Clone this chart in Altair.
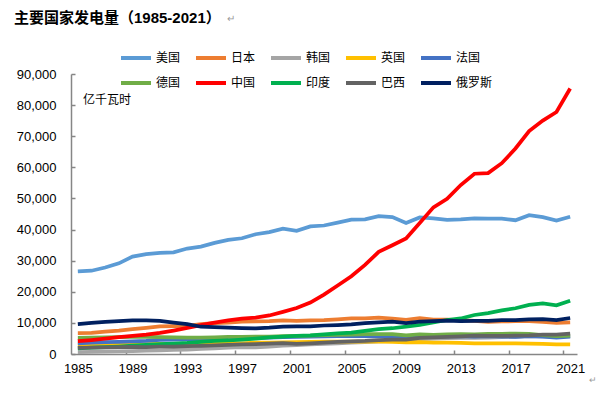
import altair as alt
import pandas as pd

years = list(range(1985, 2022))
countries = ["美国", "日本", "韩国", "英国", "法国", "德国", "中国", "印度", "巴西", "俄罗斯"]
colors = ["#5B9BD5", "#ED7D31", "#A5A5A5", "#FFC000", "#4472C4",
          "#70AD47", "#FF0000", "#00B050", "#636363", "#002060"]

us = [26570, 26760, 27800, 29150, 31300, 32100, 32500, 32700, 33900, 34500, 35700, 36700, 37200,
      38500, 39200, 40300, 39600, 41000, 41300, 42200, 43200, 43300, 44300, 44000, 42100, 43900,
      43600, 43100, 43300, 43600, 43500, 43500, 43000, 44600, 44000, 42900, 44100]
japan = [6720, 6760, 7190, 7540, 7990, 8420, 8880, 8950, 9060, 9640, 9900, 10100, 10370, 10460,
         10570, 10810, 10620, 10810, 10860, 11160, 11440, 11470, 11700, 11390, 11000, 11500, 11040,
         11070, 10870, 10620, 10350, 10510, 10530, 10570, 10310, 10040, 10200]
korea = [580, 646, 739, 855, 945, 1077, 1186, 1310, 1444, 1650, 1847, 2055, 2244, 2153, 2393, 2664,
         2852, 3065, 3225, 3421, 3646, 3812, 4031, 4224, 4336, 4747, 4969, 5096, 5171, 5220, 5281,
         5404, 5535, 5706, 5630, 5522, 5774]
uk = [2980, 3010, 3010, 3070, 3130, 3200, 3230, 3210, 3230, 3260, 3340, 3480, 3450, 3630, 3680,
      3770, 3850, 3870, 3980, 3940, 3980, 3970, 3970, 3890, 3760, 3820, 3670, 3640, 3580, 3380,
      3390, 3390, 3380, 3330, 3250, 3130, 3070]
france = [3440, 3620, 3810, 3920, 4070, 4200, 4550, 4630, 4720, 4770, 4940, 5130, 5050, 5110, 5240,
          5400, 5490, 5590, 5670, 5740, 5760, 5740, 5700, 5740, 5360, 5690, 5620, 5640, 5740, 5620,
          5710, 5560, 5540, 5740, 5620, 5260, 5550]
germany = [5220, 5230, 5310, 5410, 5500, 5500, 5400, 5380, 5270, 5290, 5370, 5530, 5520, 5570, 5560,
           5770, 5860, 5870, 6090, 6170, 6230, 6400, 6410, 6400, 5960, 6330, 6130, 6300, 6380, 6270,
           6470, 6490, 6540, 6430, 6090, 5740, 5880]
china = [4107, 4495, 4973, 5452, 5847, 6212, 6776, 7542, 8395, 9281, 10070, 10813, 11348, 11670,
         12393, 13556, 14808, 16540, 19106, 22033, 25003, 28657, 32816, 34958, 37147, 42072, 47130,
         49876, 54316, 57945, 58146, 61332, 66044, 71661, 75034, 77791, 85343]
india = [1840, 2010, 2180, 2400, 2670, 2930, 3170, 3360, 3560, 3860, 4180, 4340, 4630, 4960, 5370,
         5610, 5790, 5970, 6330, 6650, 6890, 7440, 7970, 8280, 8800, 9340, 10140, 10920, 11420,
         12530, 13170, 14010, 14710, 15800, 16230, 15630, 17140]
brazil = [1930, 2030, 2090, 2220, 2290, 2230, 2340, 2410, 2520, 2600, 2750, 2910, 3080, 3210, 3320,
          3490, 3280, 3450, 3650, 3870, 4030, 4190, 4450, 4630, 4660, 5160, 5320, 5520, 5700, 5900,
          5810, 5790, 5890, 6010, 6260, 6210, 6560]
russia = [9620, 10000, 10300, 10600, 10770, 10820, 10680, 10080, 9570, 8760, 8600, 8470, 8340, 8270,
          8460, 8780, 8910, 8910, 9160, 9320, 9530, 9960, 10150, 10400, 9920, 10380, 10550, 10710,
          10590, 10640, 10680, 10910, 10910, 11100, 11210, 10900, 11570]

series = [us, japan, korea, uk, france, germany, china, india, brazil, russia]
x_label_years = list(range(1985, 2022, 4))
x_tick_bounds = [y - 0.5 for y in range(1989, 2022, 4)]
y_ticks = list(range(0, 90001, 10000))
title_text = "主要国家发电量（1985-2021）"
unit_text = "亿千瓦时"
para_mark = "↵"

rows = []
for ci, (name, vals) in enumerate(zip(countries, series)):
    for yr, v in zip(years, vals):
        rows.append({"country": name, "year": yr, "value": v, "ord": ci})
df = pd.DataFrame(rows)

W, H = 506, 280
NUM_FONT = "Liberation Sans"
CJK_FONT = "Noto Sans CJK SC"
MIX_FONT = "Liberation Sans, Noto Sans CJK SC"
AXIS_COLOR = "#868686"

xscale = alt.Scale(domain=[1984.5, 2021.5], nice=False, zero=False)
yscale = alt.Scale(domain=[0, 90000], nice=False)

lines = alt.Chart(df).mark_line(strokeWidth=3.75).encode(
    x=alt.X("year:Q", scale=xscale,
            axis=alt.Axis(values=x_label_years, format="d", title=None, grid=False,
                          ticks=False, domainColor=AXIS_COLOR, domainWidth=1.5,
                          labelFont=NUM_FONT, labelFontSize=13, labelColor="#000000",
                          labelPadding=8, labelFlush=False)),
    y=alt.Y("value:Q", scale=yscale,
            axis=alt.Axis(values=y_ticks, format=",.0f", title=None, grid=False,
                          ticks=False, domainColor=AXIS_COLOR, domainWidth=1.5,
                          labelFont=NUM_FONT, labelFontSize=13, labelColor="#000000",
                          labelPadding=15)),
    color=alt.Color("country:N",
                    scale=alt.Scale(domain=countries, range=colors),
                    legend=alt.Legend(orient="none", legendX=48, legendY=-33,
                                      direction="horizontal", columns=5, title=None,
                                      symbolType="stroke", symbolStrokeWidth=4,
                                      symbolSize=900, labelFont=CJK_FONT, labelFontSize=12,
                                      labelColor="#000000", labelOffset=3,
                                      columnPadding=7, rowPadding=-5, padding=0)),
    order=alt.Order("year:Q"),
)

tick_layer = alt.Chart(df).mark_point(opacity=0, size=0).encode(
    x=alt.X("year:Q", scale=xscale,
            axis=alt.Axis(orient="top", offset=-H, values=x_tick_bounds, labels=False,
                          domain=False, grid=False, title=None, tickSize=4,
                          tickColor=AXIS_COLOR, tickWidth=1.5)),
    y=alt.Y("value:Q", scale=yscale,
            axis=alt.Axis(orient="right", offset=-W, values=y_ticks, labels=False,
                          domain=False, grid=False, title=None, tickSize=4,
                          tickColor=AXIS_COLOR, tickWidth=1.5)),
)

texts = pd.DataFrame({"t": [title_text, unit_text, para_mark, para_mark], "k": [0, 1, 2, 3]})
base_text = alt.Chart(texts)

title_mark = base_text.transform_filter("datum.k == 0").mark_text(
    align="left", baseline="middle", font=MIX_FONT, fontSize=15, fontWeight="bold",
    color="#000000"
).encode(text="t:N", x=alt.value(-57), y=alt.value(-56))

unit = base_text.transform_filter("datum.k == 1").mark_text(
    align="left", baseline="middle", font=CJK_FONT, fontSize=12, color="#000000"
).encode(text="t:N", x=alt.value(12), y=alt.value(26))

mark1 = base_text.transform_filter("datum.k == 2").mark_text(
    align="left", baseline="middle", font=CJK_FONT, fontSize=10, color="#9a9a9a"
).encode(text="t:N", x=alt.value(156), y=alt.value(-55))
mark2 = base_text.transform_filter("datum.k == 3").mark_text(
    align="left", baseline="middle", font=CJK_FONT, fontSize=9, color="#9a9a9a"
).encode(text="t:N", x=alt.value(518), y=alt.value(306))

chart = alt.layer(lines, tick_layer, title_mark, unit, mark1, mark2).resolve_axis(
    x="independent", y="independent"
).properties(
    width=W, height=H,
    autosize=alt.AutoSizeParams(type="none"),
    padding={"left": 63, "top": 66, "right": 22, "bottom": 32},
).configure_view(stroke=None)

chart.save("out.html", embed_options={"renderer": "svg", "actions": False})
